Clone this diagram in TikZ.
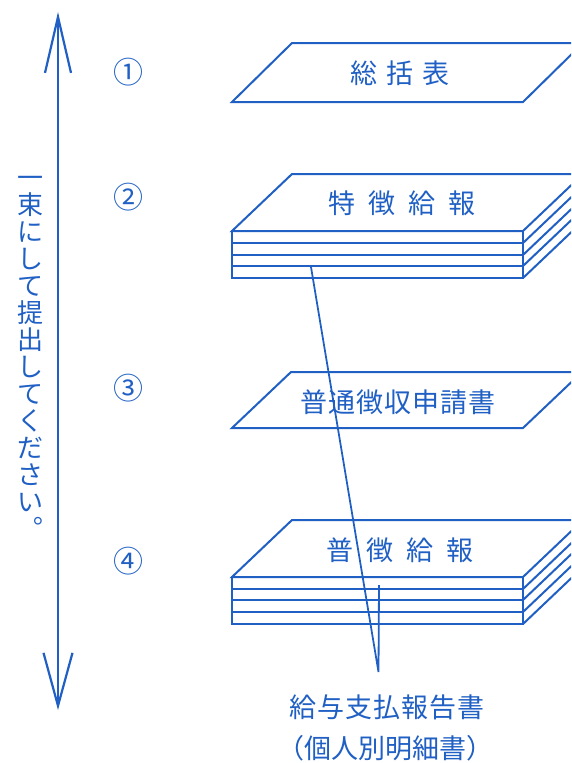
\documentclass[tikz,border=0pt]{standalone}
\usepackage{fontspec}
\newfontfamily\cjk{Noto Sans CJK JP}
\usetikzlibrary{arrows.meta}
\definecolor{ink}{RGB}{32,96,196}
\begin{document}
\begin{tikzpicture}[x=1pt,y=-1pt,
  box/.style={draw=ink, line width=2pt, line join=miter},
  lbl/.style={inner sep=0pt, text height=23.8pt, text depth=3.2pt, text=ink, font=\cjk\fontsize{27}{27}\selectfont},
  num/.style={inner sep=0pt, text height=26.4pt, text depth=3.6pt, text=ink, font=\cjk\fontsize{30}{30}\selectfont},
  vch/.style={inner sep=0pt, text height=22.9pt, text depth=3.1pt, text=ink, font=\cjk\fontsize{26}{26}\selectfont},
  lead/.style={draw=ink, line width=1.8pt},
  bigarrow/.style={draw=ink, line width=2.2pt,
    {Straight Barb[length=56pt,width=26pt]}-{Straight Barb[length=53pt,width=29pt]}}
]
\fill[white] (0,0) rectangle (571,763);
\clip (0,0) rectangle (571,763);

% double arrow
\coordinate (atop) at (58,12);
\coordinate (abot) at (58,710);
\draw[bigarrow] (atop) -- (abot);

% vertical text
\foreach \c [count=\i] in {一,束,に,し,て,提,出,し,て,く,だ,さ,い,︒}
  \node[vch] (v\i) at (30,{178+27*(\i-1)}) {\c};

% circled numbers
\node[num] (n1) at (128,72) {①};
\node[num] (n2) at (128,197) {②};
\node[num] (n3) at (128,388) {③};
\node[num] (n4) at (128,561) {④};

% sheet 1
\draw[box] (232,102) -- (292,43) -- (583,43) -- (523,102) -- cycle;
\node[lbl] (t1) at (400,73) {総\hspace{9pt}括\hspace{9pt}表};

% stack 2
\draw[box] (232,231) -- (292,174) -- (583,174) -- (523,231) -- cycle;
\draw[box] (232,231) rectangle (523,278);
\foreach \y in {243,255,266}
  \draw[box] (232,\y) -- (523,\y);
\foreach \y in {243,255,266,278}
  \draw[box] (523,\y) -- ++(60,-57);
\node[lbl] (t2) at (402,203) {特\hspace{13pt}徴\hspace{13pt}給\hspace{13pt}報};

% sheet 3
\draw[box] (232,428) -- (291,372) -- (582,372) -- (523,428) -- cycle;
\node[lbl] (t3) at (398,402) {普\hspace{1pt}通\hspace{1pt}徴\hspace{1pt}収\hspace{1pt}申\hspace{1pt}請\hspace{1pt}書};

% stack 4
\draw[box] (232,577) -- (292,520) -- (583,520) -- (523,577) -- cycle;
\draw[box] (232,577) rectangle (523,624);
\foreach \y in {589,600,612}
  \draw[box] (232,\y) -- (523,\y);
\foreach \y in {589,600,612,624}
  \draw[box] (523,\y) -- ++(60,-57);
\node[lbl] (t4) at (400,550) {普\hspace{13pt}徴\hspace{13pt}給\hspace{13pt}報};

% leader lines and label
\coordinate (p2) at (311,267);
\coordinate (p4) at (379,585);
\coordinate (meet) at (378.5,672);
\draw[lead] (p2) -- (meet) -- (p4);
\node[lbl] (lb1) at (387,707) {給\hspace{1pt}与\hspace{1pt}支\hspace{1pt}払\hspace{1pt}報\hspace{1pt}告\hspace{1pt}書};
\node[lbl] (lb2) at (385,748) {（個人別明細書）};
\end{tikzpicture}
\end{document}
